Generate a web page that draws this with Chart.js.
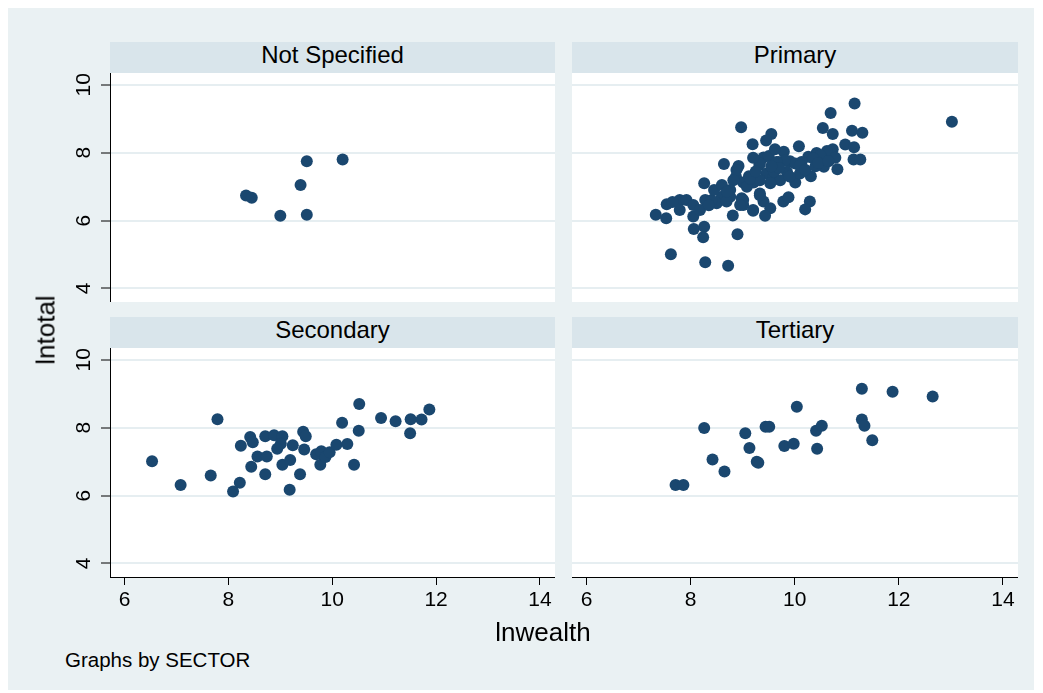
<!DOCTYPE html>
<html>
<head>
<meta charset="utf-8">
<title>lntotal vs lnwealth by SECTOR</title>
<script src="https://cdn.jsdelivr.net/npm/chart.js@4"></script>
<style>
  body { margin: 0; background: #fff; font-family: "Liberation Sans", Arial, sans-serif; color: #000; }
  #bg { position: absolute; left: 8px; top: 8px; width: 1026px; height: 682px; background: #eaf1f3; }
  .head { position: absolute; height: 31px; line-height: 26px; background: #d9e5eb; font-size: 24px; text-align: center; }
  .panel { position: absolute; }
  #ytitle { position: absolute; left: 46px; top: 330px; font-size: 26px; transform: translate(-50%, -50%) rotate(-90deg); white-space: nowrap; }
  #xtitle { position: absolute; left: 543px; top: 632px; font-size: 26px; transform: translate(-50%, -50%); white-space: nowrap; }
  #note { position: absolute; left: 65px; top: 648px; font-size: 20.5px; white-space: nowrap; }
</style>
</head>
<body>
<div id="bg"></div>

<div class="head" style="left:110px; top:42px; width:445px;">Not Specified</div>
<div class="head" style="left:572px; top:42px; width:446px;">Primary</div>
<div class="head" style="left:110px; top:317px; width:445px;">Secondary</div>
<div class="head" style="left:572px; top:317px; width:446px;">Tertiary</div>

<canvas id="c0" class="panel" width="495" height="229" style="left:60px; top:73px;"></canvas>
<canvas id="c1" class="panel" width="446" height="229" style="left:572px; top:73px;"></canvas>
<canvas id="c2" class="panel" width="495" height="274" style="left:60px; top:348px;"></canvas>
<canvas id="c3" class="panel" width="446" height="274" style="left:572px; top:348px;"></canvas>

<div id="ytitle">lntotal</div>
<div id="xtitle">lnwealth</div>
<div id="note">Graphs by SECTOR</div>

<script>
// Achsen
const xTicks = [6, 8, 10, 12, 14];
const yTicks = [4, 6, 8, 10];

// Not Specified
const notSpecWealth = [8.34, 8.45, 9.00, 9.39, 9.51, 9.51, 10.20];
const notSpecTotal  = [6.74, 6.67, 6.14, 7.05, 7.75, 6.17, 7.80];

// Primary
const primaryWealth = [
  11.15, 10.69, 13.02, 8.97, 10.54, 10.73, 11.10, 11.30, 9.55, 9.45,
  9.19, 10.08, 10.97, 11.14, 11.13, 11.26, 9.79, 10.73, 10.62, 10.42,
  10.26, 10.13, 10.78, 10.56, 10.82, 9.40, 9.50, 9.32, 9.69, 9.91,
  10.01, 8.64, 8.92, 8.87, 9.12, 10.31, 10.01, 10.10, 9.85, 9.01,
  9.21, 9.08, 8.26, 10.49, 10.36, 10.10, 9.81, 9.65, 9.33, 9.46,
  9.59, 9.72, 9.53, 9.33, 9.14, 8.88, 8.82, 8.76, 9.33, 9.40,
  9.78, 9.88, 9.53, 9.20, 9.01, 8.98, 8.76, 8.81, 10.29, 10.20,
  9.43, 7.54, 7.33, 7.53, 7.79, 7.92, 7.79, 8.05, 8.05, 8.28,
  8.18, 8.60, 8.50, 8.69, 9.01, 8.95, 9.20, 9.33, 8.06, 8.26,
  8.24, 8.90, 7.62, 8.28, 8.72, 9.60, 9.70, 9.90, 9.25, 9.55,
  10.20, 10.40, 8.40, 8.35, 7.65, 8.45, 8.60, 8.70, 9.20, 9.62,
  10.45, 10.65
];
const primaryTotal = [
  9.45, 9.17, 8.91, 8.75, 8.73, 8.55, 8.65, 8.59, 8.55, 8.36,
  8.25, 8.19, 8.24, 8.16, 7.80, 7.80, 8.03, 8.10, 8.05, 7.99,
  7.88, 7.73, 7.85, 7.59, 7.51, 7.86, 7.90, 7.64, 7.73, 7.75,
  7.68, 7.67, 7.61, 7.29, 7.31, 7.31, 7.12, 7.39, 7.44, 7.12,
  7.12, 7.00, 7.10, 7.93, 7.83, 7.63, 7.78, 7.73, 7.68, 7.39,
  7.29, 7.19, 7.10, 7.19, 7.24, 7.49, 7.19, 6.90, 6.80, 6.56,
  6.56, 6.69, 6.36, 6.29, 6.46, 6.66, 6.70, 6.15, 6.56, 6.33,
  6.14, 6.48, 6.17, 6.07, 6.61, 6.61, 6.31, 6.46, 6.12, 6.61,
  6.31, 6.70, 6.51, 6.56, 6.61, 6.46, 6.31, 6.75, 5.75, 5.82,
  5.51, 5.60, 5.01, 4.77, 4.67, 7.45, 7.55, 7.30, 7.45, 7.60,
  7.50, 7.60, 6.60, 6.45, 6.55, 6.90, 7.05, 6.85, 7.85, 8.10,
  7.70, 7.75
];

// Secondary
const secondaryWealth = [
  6.53, 7.08, 7.66, 7.79, 8.09, 8.22, 8.24, 8.42, 8.47, 8.44,
  8.56, 8.74, 8.71, 8.71, 8.88, 9.04, 9.01, 8.94, 9.04, 9.19,
  9.18, 9.24, 9.38, 9.44, 9.49, 9.46, 9.69, 9.79, 9.77, 9.87,
  9.95, 10.08, 10.29, 10.19, 10.42, 10.51, 10.52, 10.94, 11.22, 11.51,
  11.72, 11.50, 11.87
];
const secondaryTotal = [
  7.01, 6.31, 6.59, 8.25, 6.12, 6.38, 7.47, 7.73, 7.57, 6.85,
  7.15, 7.15, 6.63, 7.75, 7.78, 7.75, 7.53, 7.38, 6.91, 7.05,
  6.17, 7.48, 6.63, 7.88, 7.75, 7.36, 7.22, 7.31, 6.91, 7.14,
  7.28, 7.50, 7.52, 8.15, 6.91, 7.91, 8.70, 8.29, 8.19, 8.25,
  8.24, 7.84, 8.54
];

// Tertiary
const tertiaryWealth = [
  11.29, 11.88, 12.65, 10.04, 8.26, 9.05, 9.44, 9.51, 10.41, 10.52,
  11.29, 11.34, 11.49, 9.13, 9.80, 9.98, 10.43, 8.42, 9.27, 9.30,
  8.65, 7.71, 7.86
];
const tertiaryTotal = [
  9.15, 9.06, 8.92, 8.62, 7.99, 7.84, 8.03, 8.03, 7.91, 8.06,
  8.24, 8.06, 7.63, 7.40, 7.46, 7.53, 7.38, 7.06, 7.00, 6.97,
  6.71, 6.31, 6.31
];

const fontFamily = '"Liberation Sans", Arial, sans-serif';

// weisser Plotbereich hinter den Punkten
const whiteArea = {
  id: 'whiteArea',
  beforeDraw(chart) {
    const { ctx, chartArea: a } = chart;
    ctx.save();
    ctx.fillStyle = '#ffffff';
    ctx.fillRect(a.left, a.top, a.right - a.left, a.bottom - a.top);
    ctx.restore();
  }
};

// keine Extra-Abstände für Tick-Labels, damit der Plotbereich fix bleibt
function noPadding(s) {
  s.paddingTop = 0;
  s.paddingBottom = 0;
  s.paddingLeft = 0;
  s.paddingRight = 0;
}

function makePanel(id, wealth, total, leftAxis, bottomAxis) {
  const points = wealth.map((w, i) => ({ x: w, y: total[i] }));

  new Chart(document.getElementById(id), {
    type: 'scatter',
    data: {
      datasets: [{
        data: points,
        backgroundColor: '#1a476f',
        borderWidth: 0,
        pointRadius: 6,
        pointHoverRadius: 6
      }]
    },
    options: {
      responsive: false,
      animation: false,
      events: [],
      layout: { padding: 0, autoPadding: false },
      plugins: { legend: { display: false }, tooltip: { enabled: false } },
      scales: {
        x: {
          type: 'linear',
          min: 5.72,
          max: 14.29,
          display: bottomAxis,
          afterBuildTicks: s => { s.ticks = xTicks.map(v => ({ value: v })); },
          afterFit: s => {
            s.height = bottomAxis ? 45 : 0;
            noPadding(s);
          },
          grid: { drawOnChartArea: false, tickLength: 8, color: '#000', tickColor: '#000', tickWidth: 1 },
          border: { display: true, color: '#000', width: 1 },
          ticks: { color: '#000', font: { size: 21, family: fontFamily }, padding: 3, maxRotation: 0, autoSkip: false }
        },
        y: {
          type: 'linear',
          min: 3.6,
          max: 10.35,
          afterBuildTicks: s => { s.ticks = yTicks.map(v => ({ value: v })); },
          afterFit: s => {
            s.width = leftAxis ? 50 : 0;
            noPadding(s);
          },
          grid: { color: '#e6eef1', lineWidth: 2, drawTicks: leftAxis, tickLength: 9, tickColor: '#000', tickWidth: 1 },
          border: { display: leftAxis, color: '#000', width: 1 },
          ticks: {
            display: leftAxis,
            color: '#000',
            font: { size: 21, family: fontFamily },
            minRotation: 90,
            maxRotation: 90,
            crossAlign: 'center',
            padding: 5
          }
        }
      }
    },
    plugins: [whiteArea]
  });
}

makePanel('c0', notSpecWealth, notSpecTotal, true, false);
makePanel('c1', primaryWealth, primaryTotal, false, false);
makePanel('c2', secondaryWealth, secondaryTotal, true, true);
makePanel('c3', tertiaryWealth, tertiaryTotal, false, true);
</script>
</body>
</html>
